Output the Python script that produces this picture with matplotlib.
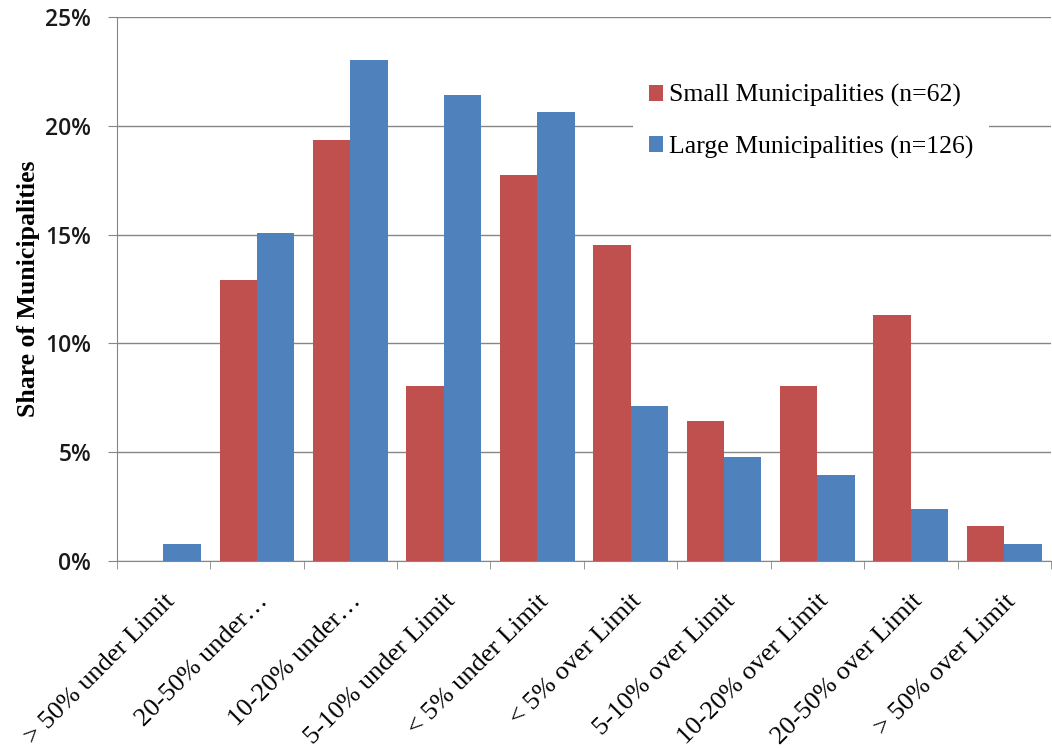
import numpy as np
import matplotlib.pyplot as plt
from matplotlib.ticker import FuncFormatter, FixedLocator

categories = ['> 50% under Limit', '20-50% under…', '10-20% under…', '5-10% under Limit',
              '< 5% under Limit', '< 5% over Limit', '5-10% over Limit', '10-20% over Limit',
              '20-50% over Limit', '> 50% over Limit']
small = [0.0, 12.90, 19.35, 8.06, 17.74, 14.52, 6.45, 8.06, 11.29, 1.61]
large = [0.79, 15.08, 23.02, 21.43, 20.63, 7.14, 4.76, 3.97, 2.38, 0.79]
series_names = ['Small Municipalities (n=62)', 'Large Municipalities (n=126)']

red = '#C0504D'
blue = '#4F81BD'
gray = '#868686'

fig = plt.figure(figsize=(10.52, 7.48), dpi=100)
ax = fig.add_axes([0.111, 0.25, 0.888, 0.727])

x = np.arange(len(categories))
w = 0.4
ax.bar(x - w / 2, small, w, color=red, label=series_names[0], zorder=3)
ax.bar(x + w / 2, large, w, color=blue, label=series_names[1], zorder=3)

ax.set_xlim(-0.5, len(categories) - 0.5)
ax.set_ylim(0, 25)
ax.set_yticks(np.arange(0, 26, 5))
ax.yaxis.set_major_formatter(FuncFormatter(lambda v, p: f'{v:.0f}%'))
ax.grid(axis='y', color=gray, linewidth=1, zorder=0)

# category labels at centers, tick marks at boundaries
ax.set_xticks(x)
ax.set_xticklabels(categories, rotation=45, ha='right', rotation_mode='anchor',
                   family='Liberation Serif', fontsize=19)
ax.tick_params(axis='x', which='major', length=0, pad=21)
ax.xaxis.set_minor_locator(FixedLocator(np.arange(-0.5, len(categories), 1)))
ax.tick_params(axis='x', which='minor', length=6, color=gray, direction='out')
ax.tick_params(axis='y', length=6.5, color=gray, direction='out', labelsize=16.5, pad=12)
for lab in ax.get_yticklabels():
    lab.set_family('Open Sans')
    lab.set_fontweight('semibold')
    lab.set_color('#1a1a1a')

for s in ['top', 'right']:
    ax.spines[s].set_visible(False)
for s in ['left', 'bottom']:
    ax.spines[s].set_color(gray)

ax.set_ylabel('Share of Municipalities', family='Liberation Serif', fontweight='bold',
              fontsize=18.5, labelpad=4)

leg = ax.legend(loc='upper left', bbox_to_anchor=(0.553, 0.905), frameon=True,
                prop={'family': 'Liberation Serif', 'size': 18.5},
                handlelength=0.55, handleheight=0.55, handletextpad=0.25,
                labelspacing=1.1, borderpad=0.6, borderaxespad=0)
leg.get_frame().set_facecolor('white')
leg.get_frame().set_edgecolor('none')
leg.get_frame().set_alpha(1)
leg.set_zorder(5)

fig.savefig('out.png', dpi=100)
